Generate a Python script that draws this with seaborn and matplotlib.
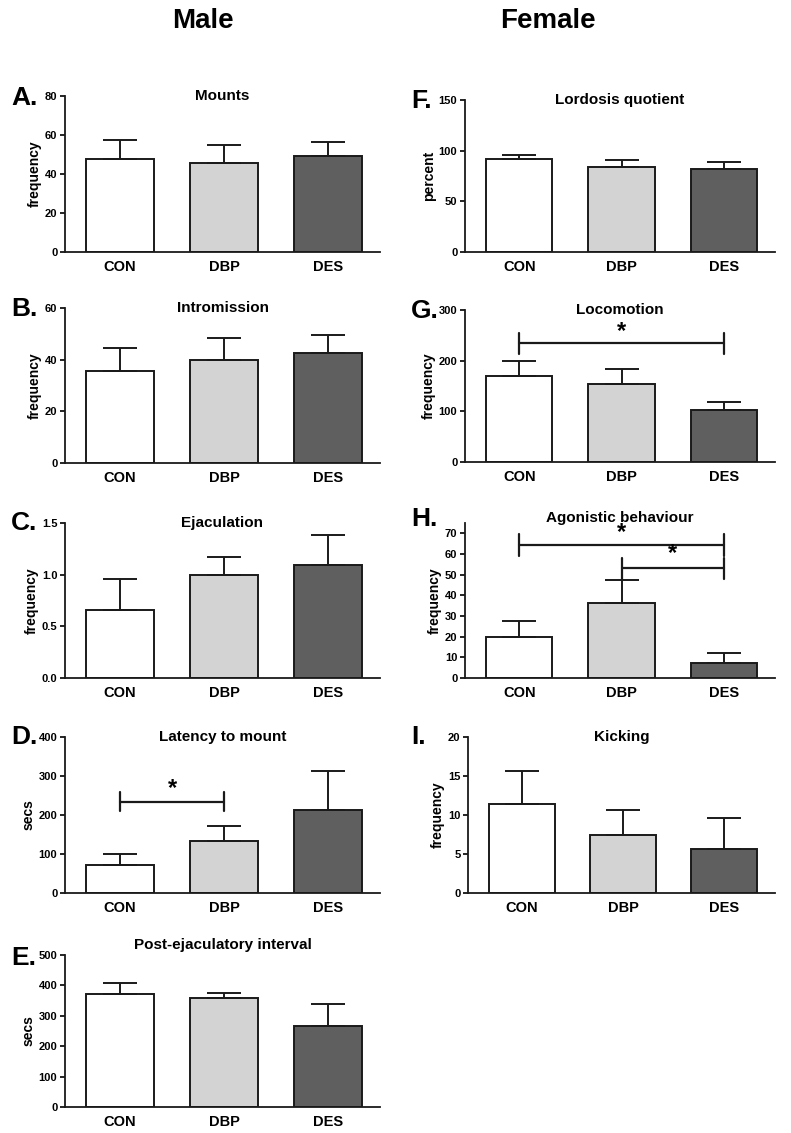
import matplotlib
matplotlib.use('Agg')
import matplotlib.pyplot as plt
import seaborn as sns
import pandas as pd
import numpy as np

groups = ['CON', 'DBP', 'DES']
bar_colors = ['#ffffff', '#d3d3d3', '#5f5f5f']

mounts_mean = [47.9, 45.5, 49.3]
mounts_sem = [9.6, 9.3, 7.3]
intromission_mean = [35.7, 39.9, 42.7]
intromission_sem = [8.7, 8.4, 6.8]
ejaculation_mean = [0.66, 1.0, 1.09]
ejaculation_sem = [0.30, 0.17, 0.29]
latency_mean = [72, 133, 212]
latency_sem = [29, 39, 101]
pei_mean = [371, 360, 266]
pei_sem = [38, 16, 72]
lordosis_mean = [91.6, 84.0, 81.7]
lordosis_sem = [4.6, 6.9, 6.9]
locomotion_mean = [170, 153.6, 103]
locomotion_sem = [29.6, 30.9, 15.8]
agonistic_mean = [19.8, 36.5, 7.2]
agonistic_sem = [7.7, 11.0, 4.9]
kicking_mean = [11.45, 7.48, 5.6]
kicking_sem = [4.15, 3.16, 3.97]

sns.set_style('ticks')
plt.rcParams['font.family'] = ['Liberation Sans', 'DejaVu Sans']
plt.rcParams['font.weight'] = 'bold'
plt.rcParams['text.color'] = 'black'
plt.rcParams['axes.labelcolor'] = 'black'
plt.rcParams['xtick.color'] = 'black'
plt.rcParams['ytick.color'] = 'black'

W, H = 791, 1133
fig = plt.figure(figsize=(W / 100, H / 100), dpi=100)


def make_ax(x0, x1, top, bottom):
    return fig.add_axes([x0 / W, 1 - bottom / H, (x1 - x0) / W, (bottom - top) / H])


# (letter, title, ylabel, means, sems, ylim, yticks, pixel box, brackets, title offset, letter y)
panels = [
    ('A.', 'Mounts', 'frequency', mounts_mean, mounts_sem, 80, np.arange(0, 81, 20), (65, 380, 96, 252), [], 0, 98),
    ('B.', 'Intromission', 'frequency', intromission_mean, intromission_sem, 60, np.arange(0, 61, 20), (65, 380, 308, 463), [], 0, 309),
    ('C.', 'Ejaculation', 'frequency', ejaculation_mean, ejaculation_sem, 1.5, [0, 0.5, 1.0, 1.5], (65, 380, 523, 678), [], 0, 523),
    ('D.', 'Latency to mount', 'secs', latency_mean, latency_sem, 400, np.arange(0, 401, 100), (65, 380, 737, 893),
     [(0, 1, 234, 24, 269)], 0, 737),
    ('E.', 'Post-ejaculatory interval', 'secs', pei_mean, pei_sem, 500, np.arange(0, 501, 100), (65, 380, 955, 1107), [], 10, 958),
    ('F.', 'Lordosis quotient', 'percent', lordosis_mean, lordosis_sem, 150, [0, 50, 100, 150], (465, 775, 100, 252), [], 0, 101),
    ('G.', 'Locomotion', 'frequency', locomotion_mean, locomotion_sem, 300, [0, 100, 200, 300], (465, 775, 310, 462),
     [(0, 2, 234, 20, 257)], 0, 311),
    ('H.', 'Agonistic behaviour', 'frequency', agonistic_mean, agonistic_sem, 75, np.arange(0, 71, 10), (465, 775, 523, 678),
     [(0, 2, 64.4, 5.4, 70.5), (1, 2, 53.1, 5.0, 60.0)], 5, 519),
    ('I.', 'Kicking', 'frequency', kicking_mean, kicking_sem, 20, [0, 5, 10, 15, 20], (468, 775, 737, 893), [], 0, 737),
]

for letter, title, ylabel, means, sems, ymax, yticks, box, brackets, toff, ly in panels:
    ax = make_ax(*box[:4])
    df = pd.DataFrame({'group': groups, 'value': means})
    sns.barplot(data=df, x='group', y='value', hue='group', palette=bar_colors, legend=False,
                errorbar=None, width=0.65, edgecolor='#1a1a1a', linewidth=1.4, ax=ax)
    ax.errorbar(range(len(groups)), means, yerr=[np.zeros(len(sems)), sems], fmt='none',
                ecolor='#1a1a1a', elinewidth=1.4, capsize=12, capthick=1.4, zorder=1)
    ax.set_xlim(-0.53, 2.5)
    ax.set_ylim(0, ymax)
    ax.set_yticks(yticks)
    ax.set_yticklabels([('%g' % t) if ymax > 2 else ('%.1f' % t) for t in yticks], fontsize=8, fontweight='bold')
    ax.set_xticks(range(len(groups)))
    ax.set_xticklabels(groups, fontsize=10.5, fontweight='bold')
    ax.tick_params(axis='x', length=0, pad=6)
    ax.tick_params(axis='y', length=3.5, width=1.2, pad=2)
    ax.set_xlabel('')
    ax.set_ylabel(ylabel, fontsize=10, fontweight='bold', labelpad=2)
    for s in ['top', 'right']:
        ax.spines[s].set_visible(False)
    for s in ['left', 'bottom']:
        ax.spines[s].set_linewidth(1.3)
        ax.spines[s].set_color('#1a1a1a')
    ax.text(0.5, 1.0 + toff / (box[3] - box[2]), title, transform=ax.transAxes, ha='center', va='center',
            fontsize=11, fontweight='bold')
    lx = 11 if box[0] < 400 else 411
    fig.text(lx / W, 1 - ly / H, letter, ha='left', va='center', fontsize=19, fontweight='bold')
    for i, j, y, half, ystar in brackets:
        ax.plot([i, j], [y, y], color='#1a1a1a', lw=1.6, zorder=5)
        ax.plot([i, i], [y - half, y + half], color='#1a1a1a', lw=1.6, zorder=5)
        ax.plot([j, j], [y - half, y + half], color='#1a1a1a', lw=1.6, zorder=5)
        ax.text((i + j) / 2, ystar, '*', ha='center', va='center', fontsize=17, fontweight='bold', zorder=6)

fig.text(203 / W, 1 - 21 / H, 'Male', ha='center', va='center', fontsize=20, fontweight='bold')
fig.text(548 / W, 1 - 21 / H, 'Female', ha='center', va='center', fontsize=20, fontweight='bold')

fig.savefig('out.png', dpi=100, facecolor='white')
